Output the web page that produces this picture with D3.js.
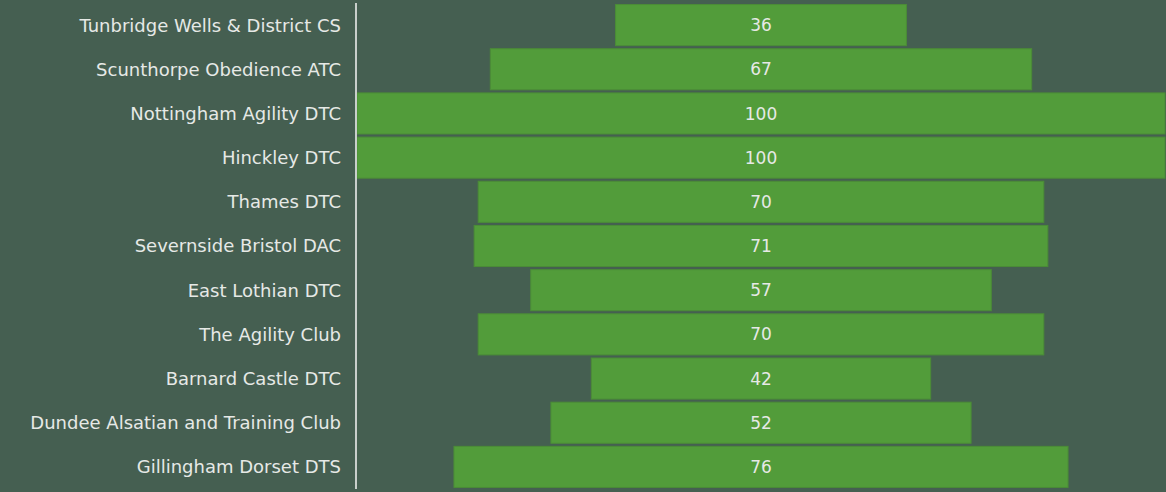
<!DOCTYPE html>
<html><head><meta charset="utf-8">
<script src="https://cdn.jsdelivr.net/npm/d3@7"></script>
<style>html,body{margin:0;padding:0;background:#455f51;}svg{display:block;}</style>
</head><body>
<svg id="chart" width="1166" height="492"></svg>
<script>
const categories = ["Tunbridge Wells & District CS","Scunthorpe Obedience ATC","Nottingham Agility DTC","Hinckley DTC","Thames DTC","Severnside Bristol DAC","East Lothian DTC","The Agility Club","Barnard Castle DTC","Dundee Alsatian and Training Club","Gillingham Dorset DTS"];
const values = [36,67,100,100,70,71,57,70,42,52,76];

(function(){
const W = 1166, H = 492;
const svg = d3.select("#chart");
svg.append("rect").attr("width",W).attr("height",H).attr("fill","#455f51");
const mLeft = 357, mRight = 1165, mTop = 3, mBottom = 489;
const y = d3.scaleBand().domain(categories).range([mTop,mBottom]).paddingInner(0.07).paddingOuter(0.035);
const w = d3.scaleLinear().domain([0,100]).range([0,mRight-mLeft]);
const cx = (mLeft+mRight)/2;
const data = categories.map((c,i)=>({c,v:values[i]}));

svg.selectAll("rect.bar").data(data).join("rect").attr("class","bar")
  .attr("x",d=>cx-w(d.v)/2).attr("y",d=>y(d.c)).attr("width",d=>w(d.v)).attr("height",y.bandwidth())
  .attr("fill","#529c3a").attr("stroke","#4b8c37").attr("stroke-width",1);

svg.selectAll("text.val").data(data).join("text").attr("class","val")
  .attr("x",cx).attr("y",d=>y(d.c)+y.bandwidth()/2).attr("dy","0.36em").attr("text-anchor","middle")
  .attr("fill","#e6e9e6").style("font-family","'DejaVu Sans', sans-serif").style("font-size","17px").text(d=>d.v);

svg.append("line").attr("x1",356).attr("x2",356).attr("y1",3).attr("y2",489).attr("stroke","#c9cfcb").attr("stroke-width",2);

svg.selectAll("text.cat").data(data).join("text").attr("class","cat")
  .attr("x",341).attr("y",d=>y(d.c)+y.bandwidth()/2).attr("dy","0.36em").attr("text-anchor","end")
  .attr("fill","#e6e9e6").style("font-family","'DejaVu Sans', sans-serif").style("font-size","18px").text(d=>d.c);
})();
</script>
</body></html>
